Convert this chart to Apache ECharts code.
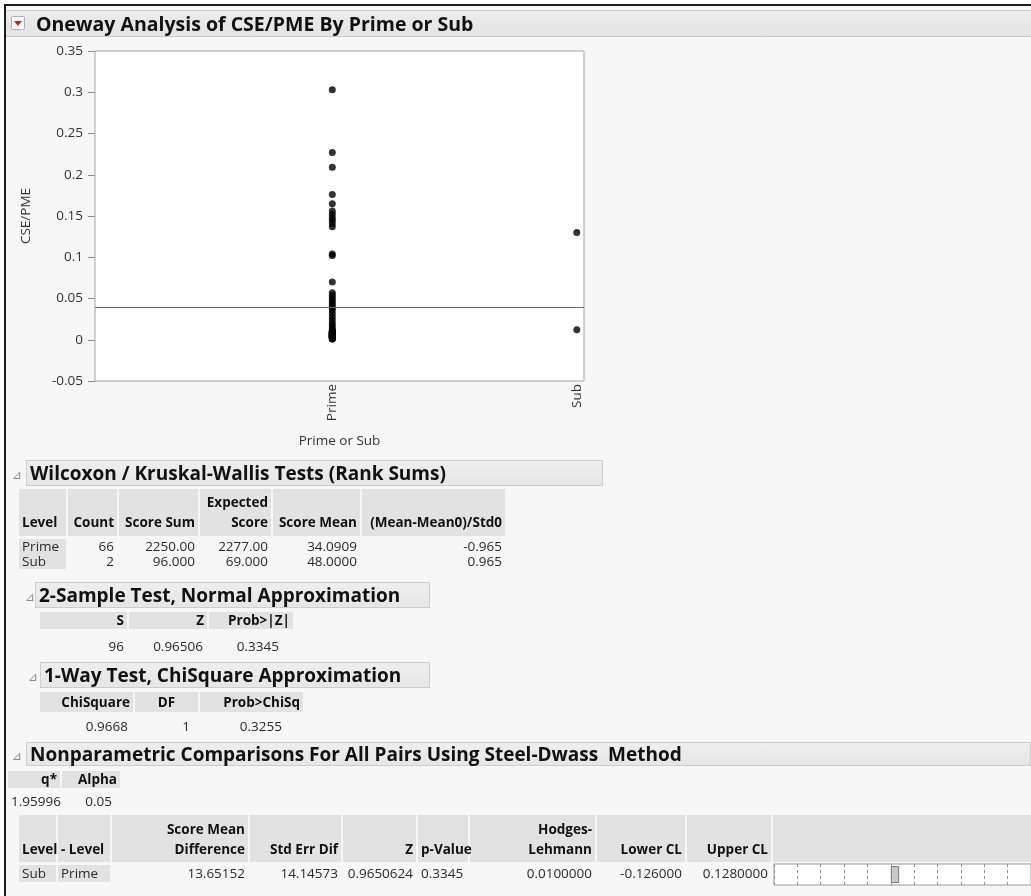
<!DOCTYPE html>
<html><head><meta charset="utf-8">
<script src="https://cdn.jsdelivr.net/npm/echarts@6/dist/echarts.min.js"></script>
<style>
html,body{margin:0;padding:0;background:#fff;}
body{width:1031px;height:896px;overflow:hidden;position:relative;font-family:"Open Sans",sans-serif;}
#frame{position:absolute;left:4px;top:4px;width:1027px;height:892px;background:#f7f7f7;border-left:2px solid #1c1c1c;border-top:2px solid #1c1c1c;z-index:0;}
#titlebar{position:absolute;left:6px;top:10px;width:1025px;height:27px;box-sizing:border-box;background:linear-gradient(#ececec,#e4e4e4);border-top:1px solid #d0d0d0;border-bottom:1px solid #c8c8c8;z-index:1;}
#chart{position:absolute;left:0;top:0;width:1031px;height:896px;z-index:2;}
.t{position:absolute;z-index:3;white-space:nowrap;color:#2a2a2a;font-size:13.5px;}
.hb{position:absolute;z-index:3;white-space:nowrap;font-weight:bold;color:#111;font-size:13.5px;}
.cell{position:absolute;z-index:2;background:#e2e2e2;}
.box{position:absolute;z-index:1;box-sizing:border-box;background:linear-gradient(#eeeeee,#e6e6e6);border:1px solid #cdcdcd;}
.sec{position:absolute;z-index:3;white-space:pre;font-weight:bold;color:#111;font-size:19px;}
.tri{position:absolute;z-index:3;font-family:"DejaVu Sans",sans-serif;color:#8a8a8a;font-size:12px;}
</style></head>
<body>
<div id="frame"></div>
<div id="titlebar"></div>
<div id="chart"></div>
<script>
// ---------- data ----------
const categories = ['Prime', 'Sub'];
const primeValues = [0.303, 0.227, 0.209, 0.176, 0.165, 0.156, 0.152, 0.148, 0.145, 0.141, 0.137, 0.104, 0.102,
  0.070, 0.057, 0.054, 0.051, 0.048, 0.045, 0.042, 0.039, 0.036, 0.032, 0.028, 0.024, 0.020, 0.017, 0.014,
  0.011, 0.011, 0.010, 0.010, 0.010, 0.009, 0.009, 0.009, 0.008, 0.008, 0.008, 0.008, 0.007, 0.007, 0.007, 0.007,
  0.006, 0.006, 0.006, 0.006, 0.005, 0.005, 0.005, 0.005, 0.005, 0.004, 0.004, 0.004, 0.004, 0.003, 0.003, 0.003,
  0.003, 0.002, 0.002, 0.002, 0.001, 0.001];
const subValues = [0.130, 0.012];
const overallMean = 0.042;
const yMin = -0.05, yMax = 0.35, yStep = 0.05;
const titleText = 'Oneway Analysis of CSE/PME By Prime or Sub';
const yTitle = 'CSE/PME';
const xTitle = 'Prime or Sub';

const wilcoxonTitle = 'Wilcoxon / Kruskal-Wallis Tests (Rank Sums)';
const wHead1 = ['', '', '', 'Expected', '', ''];
const wHead2 = ['Level', 'Count', 'Score Sum', 'Score', 'Score Mean', '(Mean-Mean0)/Std0'];
const wRows = [['Prime', '66', '2250.00', '2277.00', '34.0909', '-0.965'],
               ['Sub', '2', '96.000', '69.000', '48.0000', '0.965']];
const twoSampleTitle = '2-Sample Test, Normal Approximation';
const sHead = ['S', 'Z', 'Prob>|Z|'];
const sRow = ['96', '0.96506', '0.3345'];
const oneWayTitle = '1-Way Test, ChiSquare Approximation';
const cHead = ['ChiSquare', 'DF', 'Prob>ChiSq'];
const cRow = ['0.9668', '1', '0.3255'];
const npTitle = 'Nonparametric Comparisons For All Pairs Using Steel-Dwass  Method';
const qHead = ['q*', 'Alpha'];
const qRow = ['1.95996', '0.05'];
const npHead1 = ['', '', 'Score Mean', '', '', '', 'Hodges-', '', ''];
const npHead2 = ['Level', '- Level', 'Difference', 'Std Err Dif', 'Z', 'p-Value', 'Lehmann', 'Lower CL', 'Upper CL'];
const npRow = ['Sub', 'Prime', '13.65152', '14.14573', '0.9650624', '0.3345', '0.0100000', '-0.126000', '0.1280000'];
const hodgesLehmann = 0.01;

// ---------- html helpers ----------
function el(cls, x, y, w, h, text, extra) {
  const d = document.createElement('div');
  d.className = cls;
  d.style.left = x + 'px'; d.style.top = y + 'px';
  if (w != null) d.style.width = w + 'px';
  if (h != null) { d.style.height = h + 'px'; d.style.lineHeight = h + 'px'; }
  if (text != null) d.textContent = text;
  if (extra) Object.assign(d.style, extra);
  document.body.appendChild(d);
  return d;
}
function ctext(cls, s, x0, x1, cy, align, padL, padR) {
  const lh = 18;
  el(cls, x0 + padL, cy - lh / 2, x1 - x0 - padL - padR, lh, s, { textAlign: align });
}
function section(title, triX, boxX, boxW, top, h, textX) {
  el('box', boxX, top, boxW, h);
  el('sec', textX, top, null, h, title);
  el('tri', triX, top + 2, null, h, '\u22BF');
}
function table(spec) {
  const e = spec.edges;
  for (let i = 0; i < e.length - 1; i++) {
    el('cell', e[i], spec.headTop, e[i + 1] - e[i] - 2, spec.headH);
  }
  spec.heads.forEach((row, r) => {
    row.forEach((s, i) => {
      if (!s) return;
      ctext('hb', s, e[i], e[i + 1] - 2, spec.headY[r], spec.headAlign[i], 3, spec.headPad[i]);
    });
  });
  spec.rows.forEach((row, r) => {
    row.forEach((s, i) => {
      ctext('t', s, e[i], e[i + 1] - 2, spec.rowY[r], spec.align[i], 3, spec.pad[i]);
    });
  });
  if (spec.grayCols) {
    spec.grayCols.forEach(i => el('cell', e[i], spec.bodyTop, e[i + 1] - e[i] - 2, spec.bodyH));
  }
}

// title
el('sec', 36, 10, null, 27, titleText, { fontSize: '19.5px' });
el('box', 11, 16, 14, 14, null, { background: '#fff', border: '1px solid #b0b0b0', borderRadius: '2px', zIndex: 3 });
el('t', 14, 21, 0, 0, null, { borderLeft: '4px solid transparent', borderRight: '4px solid transparent', borderTop: '5px solid #d62020', zIndex: 4 });

// Wilcoxon
section(wilcoxonTitle, 12, 26, 577, 460, 26, 30);
table({ edges: [19, 68, 119, 200, 273, 362, 507], headTop: 489, headH: 47, heads: [wHead1, wHead2], headY: [502, 522],
  headAlign: ['left', 'right', 'right', 'right', 'right', 'right'], headPad: [0, 3, 3, 3, 3, 3],
  rows: wRows, rowY: [546, 561], align: ['left', 'right', 'right', 'right', 'right', 'right'], pad: [0, 3, 3, 3, 3, 3],
  grayCols: [0], bodyTop: 539, bodyH: 30 });

// 2-sample
section(twoSampleTitle, 25, 35, 395, 582, 26, 39);
table({ edges: [40, 129, 209, 295], headTop: 612, headH: 17, heads: [sHead], headY: [620],
  headAlign: ['right', 'right', 'right'], headPad: [3, 3, 3],
  rows: [sRow], rowY: [646], align: ['right', 'right', 'right'], pad: [3, 4, 14] });

// 1-way
section(oneWayTitle, 28, 40, 390, 662, 26, 44);
table({ edges: [40, 135, 200, 305], headTop: 692, headH: 20, heads: [cHead], headY: [702],
  headAlign: ['right', 'center', 'right'], headPad: [3, 3, 3],
  rows: [cRow], rowY: [726], align: ['right', 'right', 'right'], pad: [5, 8, 21] });

// Nonparametric
section(npTitle, 12, 26, 1005, 742, 24, 30);
table({ edges: [8, 62, 122], headTop: 771, headH: 17, heads: [qHead], headY: [779],
  headAlign: ['right', 'right'], headPad: [3, 3],
  rows: [qRow], rowY: [801], align: ['right', 'right'], pad: [3, 8] });
table({ edges: [19, 58, 112, 250, 343, 418, 470, 597, 687, 773, 1033], headTop: 815, headH: 47, heads: [npHead1, npHead2], headY: [829, 849],
  headAlign: ['left', 'left', 'right', 'right', 'right', 'right', 'right', 'right', 'right', 'right'], headPad: [0, 0, 3, 3, 3, 3, 3, 3, 3, 3],
  rows: [npRow], rowY: [873], align: ['left', 'left', 'right', 'right', 'right', 'right', 'right', 'right', 'right'], pad: [0, 0, 3, 3, 3, 6, 3, 3, 3],
  grayCols: [0, 1], bodyTop: 865, bodyH: 17 });

// ---------- chart ----------
const nPrime = primeValues.length, nSub = subValues.length, nAll = nPrime + nSub;
const xPrime = nPrime / 2 / nAll;
const xSub = (nPrime + nSub / 2) / nAll;
const xPos = [xPrime, xSub];

const chart = echarts.init(document.getElementById('chart'), null, { renderer: 'canvas' });
chart.setOption({
  backgroundColor: 'transparent',
  animation: false,
  textStyle: { fontFamily: 'Open Sans' },
  grid: [
    { left: 95, top: 51, width: 489, height: 330, show: true, backgroundColor: '#fff', borderColor: '#a3a3a3', borderWidth: 1 },
    { left: 774, top: 864, width: 276, height: 21, show: true, backgroundColor: '#fff', borderColor: '#9a9a9a', borderWidth: 1 }
  ],
  xAxis: [
    { type: 'value', gridIndex: 0, min: 0, max: 1, axisLine: { show: false }, axisTick: { show: false }, splitLine: { show: false },
      name: xTitle, nameLocation: 'middle', nameGap: 53, nameTextStyle: { fontSize: 13.5, color: '#333' },
      axisLabel: { customValues: xPos, rotate: 90, fontSize: 13.5, color: '#333', margin: 3,
        formatter: v => categories[xPos.findIndex(p => Math.abs(p - v) < 1e-9)] } },
    { type: 'value', gridIndex: 1, min: -0.14, max: 0.168, interval: 0.028, axisLine: { show: false }, axisTick: { show: false },
      axisLabel: { show: false }, splitLine: { show: true, lineStyle: { color: '#8f8f8f', type: [3, 3], width: 1 } } }
  ],
  yAxis: [
    { type: 'value', gridIndex: 0, min: yMin, max: yMax, interval: yStep,
      axisLine: { show: false }, splitLine: { show: false },
      axisTick: { show: true, length: 7, lineStyle: { color: '#8a8a8a' } },
      axisLabel: { fontSize: 13.5, color: '#333', margin: 12, formatter: v => String(+v.toFixed(2)) },
      name: yTitle, nameLocation: 'middle', nameGap: 62, nameTextStyle: { fontSize: 13.5, color: '#333' } },
    { type: 'category', gridIndex: 1, data: ['Sub - Prime'], show: false }
  ],
  series: [
    { type: 'scatter', xAxisIndex: 0, yAxisIndex: 0, symbolSize: 7, itemStyle: { color: '#000' },
      data: primeValues.map(v => [xPrime, v]),
      markLine: { silent: true, symbol: ['none', 'none'], label: { show: false },
        lineStyle: { color: '#6a6a6a', width: 1, type: 'solid' }, data: [{ yAxis: overallMean }] } },
    { type: 'scatter', xAxisIndex: 0, yAxisIndex: 0, symbolSize: 7, itemStyle: { color: '#000' },
      data: subValues.map(v => [xSub, v]) },
    { type: 'bar', xAxisIndex: 1, yAxisIndex: 1, barWidth: 17, data: [hodgesLehmann],
      itemStyle: { color: '#c9c9c9', borderColor: '#7a7a7a', borderWidth: 1 } }
  ]
});
</script>
</body></html>
